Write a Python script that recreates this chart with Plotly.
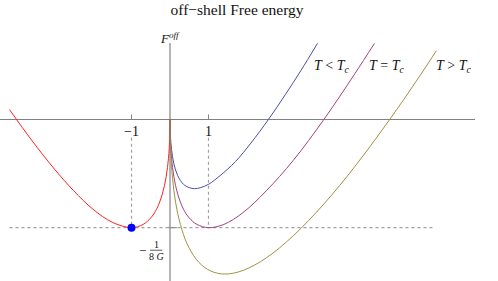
import plotly.graph_objects as go

# ---- data (M, F) ----
M_red = [-4.17, -3.6, -3.0, -2.5, -2.0, -1.5, -1.0, -0.7, -0.5, -0.35, -0.2, -0.1, -0.04, -0.01, -0.002, 0]
F_red = [0.09, -0.19, -0.46, -0.66, -0.83, -0.95, -1.0, -0.97, -0.91, -0.83, -0.69, -0.53, -0.36, -0.19, -0.087, 0]

M_blue = [0, 0.002, 0.01, 0.04, 0.1, 0.2, 0.35, 0.5, 0.64, 0.8, 1.0, 1.3, 1.7, 2.1, 2.56, 3.0, 3.4, 3.83]
F_blue = [0, -0.07, -0.15, -0.28, -0.41, -0.52, -0.60, -0.63, -0.64, -0.63, -0.60, -0.52, -0.39, -0.22, 0.0, 0.23, 0.45, 0.70]

M_purple = [0, 0.002, 0.01, 0.04, 0.1, 0.2, 0.35, 0.5, 0.7, 1.0, 1.4, 1.9, 2.5, 3.2, 4.0, 4.8, 5.31]
F_purple = [0, -0.087, -0.19, -0.36, -0.53, -0.69, -0.83, -0.91, -0.97, -1.0, -0.97, -0.86, -0.66, -0.38, 0.0, 0.42, 0.70]

M_yellow = [0, 0.002, 0.01, 0.04, 0.1, 0.2, 0.35, 0.5, 0.75, 1.05, 1.43, 1.9, 2.5, 3.2, 4.0, 4.8, 5.71, 6.4, 6.92]
F_yellow = [0, -0.105, -0.229, -0.438, -0.656, -0.869, -1.064, -1.19, -1.32, -1.399, -1.428, -1.394, -1.279, -1.075, -0.78, -0.436, 0.0, 0.354, 0.633]

point_M = [-1.0]
point_F = [-1.0]

x_ticks = [-1, 1]
x_tick_labels = ["\u22121", "1"]
level_F = -1.0          # the -1/(8G) level
level_M_span = [-4.17, 6.83]

curve_labels = ["<i>T</i> &lt; <i>T</i><sub><i>c</i></sub>",
                "<i>T</i> = <i>T</i><sub><i>c</i></sub>",
                "<i>T</i> &gt; <i>T</i><sub><i>c</i></sub>"]
curve_label_M = [4.22, 5.64, 7.38]
curve_label_F = 0.49

FONT = "Liberation Serif"

fig = go.Figure()

def curve(x, y, color):
    fig.add_trace(go.Scatter(x=x, y=y, mode="lines",
                             line=dict(color=color, width=1, shape="spline", smoothing=1.0),
                             hoverinfo="skip", showlegend=False))

# dotted guide lines
fig.add_trace(go.Scatter(x=level_M_span, y=[level_F, level_F], mode="lines",
                         line=dict(color="#a0a0a0", width=1.2, dash="dot"),
                         hoverinfo="skip", showlegend=False))
for xt in x_ticks:
    fig.add_trace(go.Scatter(x=[xt, xt], y=[-0.17, level_F], mode="lines",
                             line=dict(color="#a0a0a0", width=1.2, dash="dot"),
                             hoverinfo="skip", showlegend=False))

curve(M_red, F_red, "#ff2020")
curve(M_blue, F_blue, "#4d4da6")
curve(M_purple, F_purple, "#a0447a")
curve(M_yellow, F_yellow, "#a09244")

fig.add_trace(go.Scatter(x=point_M, y=point_F, mode="markers",
                         marker=dict(color="#0000ff", size=8), hoverinfo="skip", showlegend=False))

# tick marks
for xt in x_ticks:
    fig.add_shape(type="line", x0=xt, x1=xt, y0=0, y1=0.045,
                  line=dict(color="#888888", width=1))
fig.add_shape(type="line", x0=-0.05, x1=0.18, y0=level_F, y1=level_F,
              line=dict(color="#888888", width=1))

ann = []
for xt, lab in zip(x_ticks, x_tick_labels):
    ann.append(dict(x=xt, y=-0.11, xref="x", yref="y", text=lab, showarrow=False,
                    font=dict(family=FONT, size=14, color="#111")))
for m, lab in zip(curve_label_M, curve_labels):
    ann.append(dict(x=m, y=curve_label_F, xref="x", yref="y", text=lab, showarrow=False,
                    font=dict(family=FONT, size=14, color="#111")))
ann.append(dict(x=8.35, y=0, xref="x", yref="y", text="<i>M</i>", showarrow=False,
                font=dict(family=FONT, size=14, color="#111")))
ann.append(dict(x=0, y=1.063, xref="x", yref="paper", text="<i>F</i><sup><i>off</i></sup>",
                showarrow=False, font=dict(family=FONT, size=13, color="#111")))
# -1/(8G) label
ann.append(dict(x=-0.72, y=-1.21, xref="x", yref="y", text="\u2212", showarrow=False,
                font=dict(family=FONT, size=13, color="#111")))
ann.append(dict(x=-0.36, y=-1.155, xref="x", yref="y", text="1", showarrow=False,
                font=dict(family=FONT, size=10, color="#111")))
ann.append(dict(x=-0.36, y=-1.27, xref="x", yref="y", text="8 <i>G</i>", showarrow=False,
                font=dict(family=FONT, size=10, color="#111")))
fig.add_shape(type="line", x0=-0.52, x1=-0.2, y0=-1.208, y1=-1.208,
              line=dict(color="#333", width=0.8))

fig.update_layout(
    width=498, height=281,
    margin=dict(l=0, r=23, t=43, b=0),
    paper_bgcolor="white", plot_bgcolor="white",
    hovermode=False,
    title=dict(text="off\u2212shell Free energy", x=0.476, xanchor="center",
               y=0.965, yanchor="middle", font=dict(family=FONT, size=15.5, color="#111")),
    xaxis=dict(range=[-4.416, 7.922], showgrid=False, showticklabels=False, ticks="",
               zeroline=True, zerolinecolor="#b5b5b5", zerolinewidth=2, showline=False),
    yaxis=dict(range=[-1.492, 0.704], showgrid=False, showticklabels=False, ticks="",
               zeroline=True, zerolinecolor="#808080", zerolinewidth=1, showline=False),
    annotations=ann,
)

fig.write_html("out.html", config={"displayModeBar": False},
               post_script="document.body.style.margin='0';document.body.style.overflow='hidden';")
